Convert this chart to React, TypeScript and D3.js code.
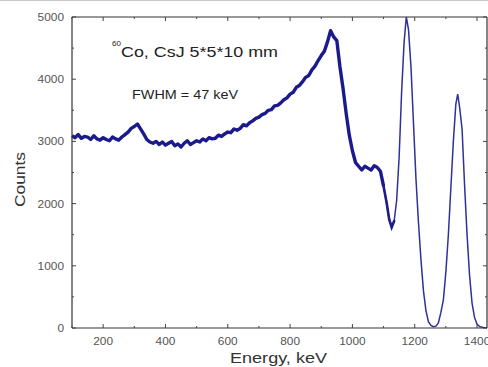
import { useRef, useEffect } from "react";
import * as d3 from "d3";

// noisy continuum, read every 10 keV off the picture
const energyLow = d3.range(100, 1101, 10);
const countsLow = [
  3090, 3060, 3110, 3050, 3080, 3070, 3030, 3090, 3040, 3020,
  3060, 3030, 3010, 3070, 3040, 3020, 3070, 3110, 3150, 3210,
  3240, 3280, 3200, 3120, 3030, 2990, 2970, 3000, 2950, 2990,
  2940, 2970, 3000, 2930, 2960, 2910, 2970, 3010, 2950, 2980,
  3010, 2990, 3040, 3010, 3060, 3040, 3050, 3100, 3080, 3120,
  3150, 3140, 3200, 3180, 3210, 3270, 3250, 3300, 3330, 3370,
  3390, 3430, 3450, 3500, 3510, 3570, 3580, 3620, 3670, 3700,
  3760, 3790, 3870, 3900, 3960, 4030, 4060, 4150, 4210, 4300,
  4380, 4450, 4600, 4780, 4680, 4620, 4200, 3850, 3450, 3100,
  2850, 2660, 2600, 2540, 2600, 2570, 2540, 2610, 2580, 2520,
  2280,
];

// photopeaks region
const energyHigh = [
  1100, 1110, 1118, 1126, 1134, 1142, 1150, 1158, 1166, 1173, 1180, 1188, 1196, 1204,
  1212, 1220, 1228, 1236, 1244, 1252, 1260, 1268, 1276, 1284, 1292, 1300, 1308, 1316,
  1324, 1332, 1338, 1344, 1352, 1360, 1368, 1376, 1384, 1392, 1400, 1410, 1420, 1432,
];
const countsHigh = [
  2280, 2010, 1750, 1620, 1720, 2050, 2750, 3800, 4600, 5000, 4800, 4200, 3300, 2400,
  1700, 1100, 600, 280, 100, 40, 20, 30, 80, 250, 450, 900, 1500, 2250,
  3000, 3600, 3760, 3550, 3200, 2300, 1500, 850, 400, 170, 60, 20, 10, 5,
];

const xMajor = [200, 400, 600, 800, 1000, 1200, 1400];
const xMinor = [100, 300, 500, 700, 900, 1100, 1300];
const yMajor = [0, 1000, 2000, 3000, 4000, 5000];
const yMinor = [500, 1500, 2500, 3500, 4500];

export default function App() {
  const svgRef = useRef<SVGSVGElement>(null);

  useEffect(() => {
    if (!svgRef.current) return;
    const svg = d3.select(svgRef.current);
    svg.selectAll("*").remove();

    const x = d3.scaleLinear().domain([100, 1432]).range([72, 487]);
    const y = d3.scaleLinear().domain([0, 5000]).range([328, 17]);
    const font = "Arial, 'Liberation Sans', sans-serif";

    svg.append("line").attr("x1", 0).attr("x2", 488).attr("y1", 0.5).attr("y2", 0.5)
      .attr("stroke", "#c8c8c8").attr("stroke-width", 1);

    const low = energyLow.map((e, i) => [e, countsLow[i]] as [number, number]);
    const high = energyHigh.map((e, i) => [e, countsHigh[i]] as [number, number]);
    const line = d3.line<[number, number]>().x(d => x(d[0])).y(d => y(d[1]));

    svg.append("path").datum(high).attr("fill", "none").attr("stroke", "#30309a")
      .attr("stroke-width", 1.5).attr("d", line);
    svg.append("path").datum(high.slice(0, 5)).attr("fill", "none").attr("stroke", "#1c1c8c")
      .attr("stroke-width", 2.6).attr("stroke-linecap", "round").attr("d", line);
    svg.append("path").datum(low).attr("fill", "none").attr("stroke", "#1a1a8c")
      .attr("stroke-width", 3.4).attr("stroke-linejoin", "round").attr("d", line);

    // frame
    const [x0, x1] = x.range();
    const [y0, y1] = y.range();
    const frame = svg.append("g").attr("stroke", "#333").attr("stroke-width", 1.2);
    frame.append("line").attr("x1", x0).attr("x2", x1).attr("y1", y0).attr("y2", y0);
    frame.append("line").attr("x1", x0).attr("x2", x1).attr("y1", y1).attr("y2", y1);
    frame.append("line").attr("x1", x0).attr("x2", x0).attr("y1", y0).attr("y2", y1);
    frame.append("line").attr("x1", x1).attr("x2", x1).attr("y1", y0).attr("y2", y1);

    const ticks = svg.append("g").attr("stroke", "#444").attr("stroke-width", 1);
    const xt = (vals: number[], len: number) => vals.forEach(v => {
      ticks.append("line").attr("x1", x(v)).attr("x2", x(v)).attr("y1", y0).attr("y2", y0 - len);
      ticks.append("line").attr("x1", x(v)).attr("x2", x(v)).attr("y1", y1).attr("y2", y1 + len);
    });
    const yt = (vals: number[], len: number) => vals.forEach(v => {
      ticks.append("line").attr("x1", x0).attr("x2", x0 + len).attr("y1", y(v)).attr("y2", y(v));
      ticks.append("line").attr("x1", x1).attr("x2", x1 - len).attr("y1", y(v)).attr("y2", y(v));
    });
    xt(xMajor, 4); xt(xMinor, 2); yt(yMajor, 4); yt(yMinor, 2);

    svg.append("g").selectAll("text").data(xMajor).enter().append("text")
      .attr("x", d => x(d)).attr("y", 345).attr("text-anchor", "middle")
      .attr("textLength", d => String(d).length * 6.6).attr("lengthAdjust", "spacingAndGlyphs")
      .attr("font-family", font).attr("font-size", 10.5).attr("fill", "#555").text(d => d);
    svg.append("g").selectAll("text").data(yMajor).enter().append("text")
      .attr("x", 64).attr("y", d => y(d) + 4).attr("text-anchor", "end")
      .attr("textLength", d => String(d).length * 6.6).attr("lengthAdjust", "spacingAndGlyphs")
      .attr("font-family", font).attr("font-size", 10.5).attr("fill", "#555").text(d => d);

    svg.append("text").attr("x", 230).attr("y", 363)
      .attr("textLength", 97).attr("lengthAdjust", "spacingAndGlyphs")
      .attr("font-family", font).attr("font-size", 15.5).attr("fill", "#333").text("Energy, keV");
    svg.append("text").attr("transform", "translate(25,207) rotate(-90)")
      .attr("textLength", 55).attr("lengthAdjust", "spacingAndGlyphs")
      .attr("font-family", font).attr("font-size", 15).attr("fill", "#333").text("Counts");

    svg.append("text").attr("x", 112).attr("y", 46).attr("font-family", font)
      .attr("font-size", 8).attr("fill", "#222").text("60");
    svg.append("text").attr("x", 121).attr("y", 57)
      .attr("textLength", 157).attr("lengthAdjust", "spacingAndGlyphs")
      .attr("font-family", font).attr("font-size", 14.5).attr("fill", "#222").text("Co, CsJ 5*5*10 mm");
    svg.append("text").attr("x", 132).attr("y", 99)
      .attr("textLength", 106).attr("lengthAdjust", "spacingAndGlyphs")
      .attr("font-family", font).attr("font-size", 12.5).attr("fill", "#222").text("FWHM = 47 keV");
  }, []);

  return (
    <div style={{ position: "absolute", left: 0, top: 0, background: "#fff" }}>
      <svg ref={svgRef} width={488} height={367} style={{ display: "block" }} />
    </div>
  );
}
